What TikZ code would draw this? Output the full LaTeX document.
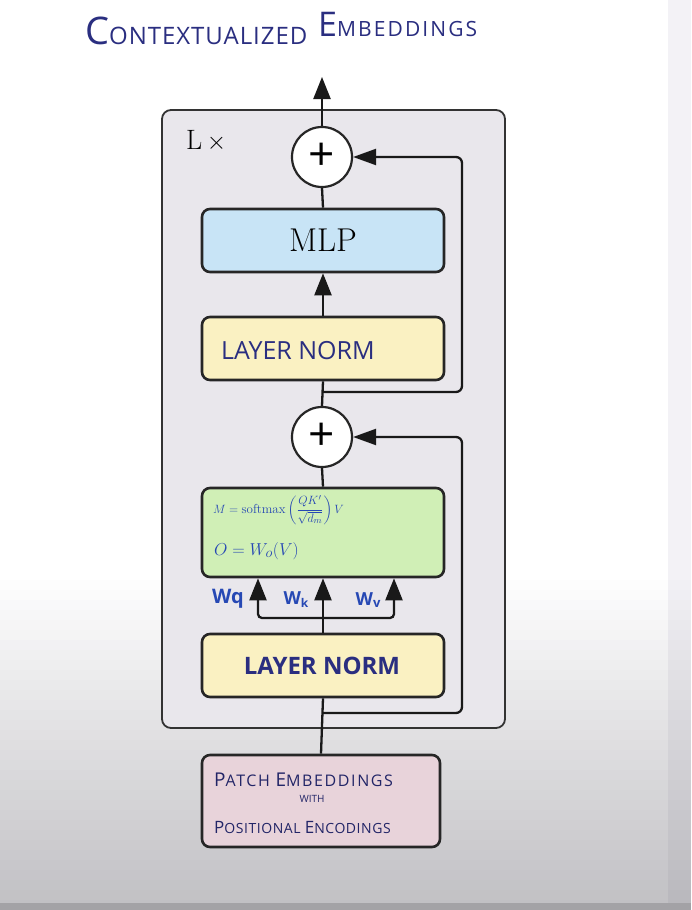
\documentclass[tikz,border=0pt]{standalone}
\usepackage{fontspec}
\usepackage{amsmath}
\usepackage{tikz}
\usetikzlibrary{arrows.meta}
\newfontfamily\hand{Open Sans}
\newfontfamily\handsp{Open Sans}[LetterSpace=10]
\newfontfamily\handlt{Open Sans}[LetterSpace=4]
\definecolor{boxgray}{RGB}{233,231,236}
\definecolor{mlpblue}{RGB}{200,228,246}
\definecolor{normyellow}{RGB}{250,241,194}
\definecolor{attngreen}{RGB}{208,239,182}
\definecolor{patchpink}{RGB}{232,211,218}
\definecolor{inkblue}{RGB}{42,46,128}
\definecolor{penblue}{RGB}{38,72,180}
\definecolor{bggray}{RGB}{192,191,195}
\definecolor{stripgray}{RGB}{243,242,246}
\definecolor{stripdark}{RGB}{184,183,188}

\begin{document}
\begin{tikzpicture}[x=1pt,y=1pt,yscale=-1,xscale=1,
  block/.style={draw=black!85,line width=2.6pt,rounded corners=8pt,minimum width=242pt,minimum height=63pt,inner sep=0pt},
  plus/.style={draw=black!85,fill=white,circle,line width=2.2pt,minimum size=60pt,inner sep=0pt,font=\hand\fontsize{46}{46}\selectfont},
  link/.style={line width=2.3pt,black!90},
  arr/.style={link,-{Triangle[length=22pt,width=17pt]}},
  res/.style={link,rounded corners=6pt,-{Triangle[length=23pt,width=16pt]}},
  hw/.style={text=inkblue,inner sep=0pt,font=\hand}]
\useasboundingbox (0,0) rectangle (691,910);

%Background
\fill[white] (0,0) rectangle (691,910);
\fill[stripgray] (668,0) rectangle (691,910);
\foreach \i in {0,...,33}{
  \pgfmathsetmacro{\pct}{3*\i}
  \fill[bggray!\pct!white] (0,{570+10*\i}) rectangle (668,{581+10*\i});
  \fill[stripdark!\pct!stripgray] (668,{570+10*\i}) rectangle (691,{581+10*\i});
}
\fill[bggray!85!black] (0,903) rectangle (691,910);

%Shape: Outer block
\draw[draw=black!80,line width=1.8pt,fill=boxgray,rounded corners=9pt] (162,110) rectangle (505,728);

% Text Node
\node[hw,anchor=base west] (title) at (85,44) {{\fontsize{38}{38}\selectfont C}{\handlt\fontsize{24}{24}\selectfont ONTEXTUALIZED}};
% Text Node
\node[hw,anchor=base west] (title2) at (318,36) {{\fontsize{34}{34}\selectfont E}{\handsp\fontsize{21}{21}\selectfont MBEDDINGS}};
% Text Node
\node[anchor=base west,inner sep=0pt,font=\fontsize{28}{28}\selectfont] (times) at (186,149) {L\,$\times$};

%Nodes
\node[plus] (plusA) at (322,157) {+};
\node[block,fill=mlpblue,font=\fontsize{33}{33}\selectfont] (mlp) at (323,240.5) {MLP};
\node[block,fill=normyellow] (normA) at (323,348.5) {};
\node[hw,anchor=base west,font=\hand\fontsize{25}{25}\selectfont] (normAtext) at (221,359) {LAYER NORM};
\node[plus] (plusB) at (322,437) {+};
\node[block,fill=attngreen,minimum height=89pt] (attn) at (323,532.5) {};
\node[hw,text=penblue,anchor=west,font=\fontsize{13}{13}\selectfont] (eqM) at (213,510) {$M = \mathrm{softmax}\left(\dfrac{QK'}{\sqrt{d_m}}\right)V$};
\node[hw,text=penblue,anchor=west,font=\fontsize{19}{19}\selectfont] (eqO) at (214,551) {$O = W_o(V)$};
\node[block,fill=normyellow] (normB) at (323,665.5) {};
\node[hw,font=\hand\bfseries\fontsize{24}{24}\selectfont] (normBtext) at (322,666) {LAYER NORM};
\node[block,fill=patchpink,minimum width=238pt,minimum height=92pt] (patch) at (321,801) {};
\node[hw,anchor=base west,text=inkblue!80!black,font=\handsp\fontsize{16}{16}\selectfont] (patchA) at (214,786) {{\fontsize{19}{19}\selectfont P}ATCH {\fontsize{19}{19}\selectfont E}MBEDDINGS};
\node[hw,text=inkblue!80!black,font=\hand\fontsize{10}{10}\selectfont] (patchB) at (312,799) {WITH};
\node[hw,anchor=base west,text=inkblue!80!black,font=\handlt\fontsize{14}{14}\selectfont] (patchC) at (214,833) {{\fontsize{17}{17}\selectfont P}OSITIONAL {\fontsize{17}{17}\selectfont E}NCODINGS};

% Text Node
\node[hw,text=penblue,font=\hand\bfseries\fontsize{20}{20}\selectfont] (wq) at (228,599) {Wq};
\node[hw,text=penblue,font=\hand\bfseries\fontsize{18}{18}\selectfont] (wk) at (296,600) {W\raisebox{-3pt}{\fontsize{12}{12}\selectfont k}};
\node[hw,text=penblue,font=\hand\bfseries\fontsize{18}{18}\selectfont] (wv) at (368,600) {W\raisebox{-2pt}{\fontsize{13}{13}\selectfont v}};

%Coordinates
\coordinate (out) at (322,77);
\coordinate (tapA) at (322,392);
\coordinate (turnA) at (462,392);
\coordinate (fork) at (322,618);
\coordinate (tapB) at (322,713);
\coordinate (turnB) at (462,713);

%Connectors
\draw[arr] (plusA.north) -- (out);
\draw[link] (mlp.north) -- (plusA.south);
\draw[arr] (normA.north) -- (mlp.south);
\draw[link] (normA.south) -- (plusB.north);
\draw[res] (tapA) -- (turnA) |- (plusA.east);
\draw[link] (attn.north) -- (plusB.south);
\draw[arr] (normB.north) -- (attn.south);
\draw[arr,rounded corners=4pt] (fork) -| ([xshift=-65pt]attn.south);
\draw[arr,rounded corners=4pt] (fork) -| ([xshift=71pt]attn.south);
\draw[link] (patch.north) -- (normB.south);
\draw[res] (tapB) -- (turnB) |- (plusB.east);

\end{tikzpicture}
\end{document}
